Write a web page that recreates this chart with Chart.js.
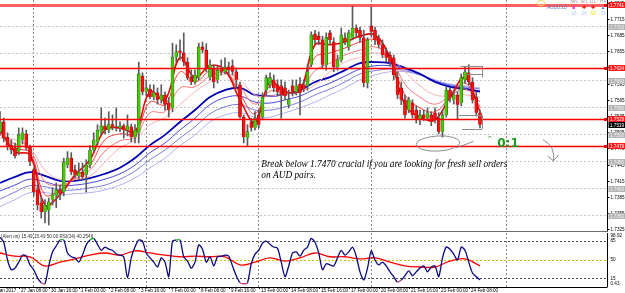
<!DOCTYPE html>
<html>
<head>
<meta charset="utf-8">
<script src="https://cdn.jsdelivr.net/npm/chart.js@4.4.1/dist/chart.umd.min.js"></script>
<style>
  html, body { margin: 0; padding: 0; background: #fff; }
  #wrap { position: relative; width: 625px; height: 293px; overflow: hidden; background: #fff; }
  #price { position: absolute; left: 0; top: 0; }
  #rsi { position: absolute; left: 0; top: 233px; }
</style>
</head>
<body>
<div id="wrap">
  <canvas id="price" width="625" height="232"></canvas>
  <canvas id="rsi" width="625" height="60"></canvas>
</div>
<script>
'use strict';

// H4 bars, bar 0 = 27 Jan 08:00, first visible bar is -5
var firstBar = -5;

var opens = [1.7506, 1.7524, 1.7496, 1.7481, 1.7476, 1.7469, 1.7491, 1.7502, 1.7478, 1.7435,
  1.7398, 1.7374, 1.7357, 1.7361, 1.7380, 1.7387, 1.7398, 1.7394, 1.7444, 1.7457,
  1.7435, 1.7424, 1.7431, 1.7426, 1.7444, 1.7472, 1.7487, 1.7506, 1.7517, 1.7509,
  1.7519, 1.7515, 1.7513, 1.7517, 1.7509, 1.7515, 1.7496, 1.7504, 1.7609, 1.7580,
  1.7585, 1.7570, 1.7578, 1.7565, 1.7574, 1.7559, 1.7550, 1.7644, 1.7656, 1.7652,
  1.7635, 1.7607, 1.7598, 1.7607, 1.7663, 1.7657, 1.7607, 1.7624, 1.7602, 1.7624,
  1.7617, 1.7626, 1.7628, 1.7617, 1.7593, 1.7533, 1.7494, 1.7524, 1.7513, 1.7537,
  1.7533, 1.7583, 1.7593, 1.7602, 1.7593, 1.7591, 1.7587, 1.7556, 1.7591, 1.7580,
  1.7594, 1.7593, 1.7591, 1.7630, 1.7687, 1.7683, 1.7676, 1.7630, 1.7689, 1.7672,
  1.7626, 1.7639, 1.7680, 1.7663, 1.7680, 1.7698, 1.7694, 1.7680, 1.7596, 1.7702,
  1.7694, 1.7680, 1.7667, 1.7654, 1.7648, 1.7643, 1.7607, 1.7587, 1.7565, 1.7546,
  1.7559, 1.7546, 1.7528, 1.7537, 1.7531, 1.7537, 1.7541, 1.7531, 1.7506, 1.7537,
  1.7583, 1.7565, 1.7574, 1.7559, 1.7602, 1.7615, 1.7598, 1.7569, 1.7541];
var highs = [1.7543, 1.7531, 1.7504, 1.7491, 1.7485, 1.7513, 1.7513, 1.7509, 1.7481, 1.7439,
  1.7407, 1.7387, 1.7380, 1.7383, 1.7402, 1.7411, 1.7407, 1.7457, 1.7469, 1.7467,
  1.7444, 1.7448, 1.7448, 1.7454, 1.7480, 1.7504, 1.7519, 1.7550, 1.7531, 1.7543,
  1.7537, 1.7550, 1.7524, 1.7520, 1.7537, 1.7520, 1.7519, 1.7635, 1.7615, 1.7602,
  1.7593, 1.7593, 1.7587, 1.7593, 1.7580, 1.7569, 1.7670, 1.7667, 1.7676, 1.7689,
  1.7643, 1.7620, 1.7620, 1.7670, 1.7672, 1.7669, 1.7639, 1.7630, 1.7628, 1.7639,
  1.7643, 1.7635, 1.7639, 1.7624, 1.7598, 1.7537, 1.7519, 1.7531, 1.7543, 1.7546,
  1.7578, 1.7611, 1.7615, 1.7611, 1.7602, 1.7602, 1.7598, 1.7583, 1.7602, 1.7602,
  1.7606, 1.7602, 1.7630, 1.7691, 1.7694, 1.7691, 1.7683, 1.7689, 1.7694, 1.7680,
  1.7648, 1.7698, 1.7689, 1.7694, 1.7739, 1.7704, 1.7700, 1.7694, 1.7680, 1.7737,
  1.7700, 1.7685, 1.7676, 1.7661, 1.7654, 1.7648, 1.7617, 1.7598, 1.7574, 1.7570,
  1.7565, 1.7554, 1.7546, 1.7546, 1.7550, 1.7543, 1.7550, 1.7541, 1.7546, 1.7589,
  1.7587, 1.7583, 1.7580, 1.7613, 1.7626, 1.7630, 1.7606, 1.7580, 1.7546];
var lows = [1.7500, 1.7487, 1.7472, 1.7465, 1.7457, 1.7463, 1.7483, 1.7472, 1.7443, 1.7387,
  1.7361, 1.7346, 1.7337, 1.7333, 1.7370, 1.7365, 1.7380, 1.7387, 1.7439, 1.7426,
  1.7420, 1.7417, 1.7417, 1.7394, 1.7439, 1.7469, 1.7481, 1.7500, 1.7502, 1.7504,
  1.7509, 1.7507, 1.7506, 1.7494, 1.7498, 1.7487, 1.7485, 1.7485, 1.7574, 1.7572,
  1.7567, 1.7565, 1.7557, 1.7559, 1.7546, 1.7533, 1.7543, 1.7635, 1.7639, 1.7628,
  1.7602, 1.7593, 1.7594, 1.7602, 1.7652, 1.7617, 1.7602, 1.7587, 1.7596, 1.7611,
  1.7613, 1.7613, 1.7611, 1.7587, 1.7531, 1.7485, 1.7480, 1.7507, 1.7509, 1.7513,
  1.7528, 1.7574, 1.7587, 1.7580, 1.7572, 1.7531, 1.7565, 1.7550, 1.7572, 1.7574,
  1.7537, 1.7580, 1.7583, 1.7626, 1.7669, 1.7667, 1.7624, 1.7620, 1.7667, 1.7617,
  1.7620, 1.7635, 1.7667, 1.7657, 1.7676, 1.7680, 1.7672, 1.7589, 1.7587, 1.7683,
  1.7667, 1.7661, 1.7643, 1.7635, 1.7628, 1.7602, 1.7567, 1.7556, 1.7531, 1.7541,
  1.7531, 1.7522, 1.7519, 1.7526, 1.7528, 1.7517, 1.7522, 1.7502, 1.7496, 1.7533,
  1.7561, 1.7557, 1.7528, 1.7554, 1.7596, 1.7593, 1.7559, 1.7535, 1.7513];
var closes = [1.7524, 1.7494, 1.7480, 1.7472, 1.7461, 1.7500, 1.7504, 1.7476, 1.7450, 1.7394,
  1.7370, 1.7357, 1.7370, 1.7376, 1.7389, 1.7398, 1.7391, 1.7450, 1.7457, 1.7431,
  1.7426, 1.7431, 1.7422, 1.7444, 1.7472, 1.7491, 1.7509, 1.7517, 1.7509, 1.7519,
  1.7515, 1.7513, 1.7517, 1.7509, 1.7517, 1.7496, 1.7509, 1.7613, 1.7580, 1.7587,
  1.7570, 1.7578, 1.7565, 1.7574, 1.7556, 1.7546, 1.7644, 1.7654, 1.7652, 1.7635,
  1.7606, 1.7598, 1.7611, 1.7663, 1.7657, 1.7624, 1.7630, 1.7598, 1.7620, 1.7617,
  1.7626, 1.7620, 1.7617, 1.7602, 1.7533, 1.7496, 1.7506, 1.7513, 1.7531, 1.7519,
  1.7570, 1.7606, 1.7606, 1.7587, 1.7580, 1.7574, 1.7572, 1.7565, 1.7580, 1.7591,
  1.7578, 1.7585, 1.7617, 1.7685, 1.7676, 1.7676, 1.7630, 1.7681, 1.7676, 1.7626,
  1.7639, 1.7685, 1.7672, 1.7689, 1.7698, 1.7689, 1.7680, 1.7596, 1.7676, 1.7691,
  1.7676, 1.7667, 1.7648, 1.7643, 1.7635, 1.7611, 1.7574, 1.7565, 1.7537, 1.7565,
  1.7537, 1.7528, 1.7537, 1.7531, 1.7541, 1.7524, 1.7528, 1.7506, 1.7537, 1.7583,
  1.7569, 1.7574, 1.7556, 1.7606, 1.7617, 1.7598, 1.7565, 1.7541, 1.7519];

// moving-average ribbons, read every 4th bar
var ribbonBars = [-5, -1, 3, 7, 11, 15, 19, 23, 27, 31, 35, 39, 43, 47, 51, 55, 59,
  63, 67, 71, 75, 79, 83, 87, 91, 95, 99, 103, 107, 111, 115, 119, 123];
var redFast = [1.7509, 1.7469, 1.7463, 1.7370, 1.7389, 1.7426, 1.7454, 1.7509, 1.7513, 1.7506, 1.7580,
  1.7565, 1.7643, 1.7606, 1.7628, 1.7620, 1.7565, 1.7524, 1.7598, 1.7580, 1.7583, 1.7667,
  1.7667, 1.7672, 1.7683, 1.7685, 1.7643, 1.7556, 1.7533, 1.7528, 1.7570, 1.7606, 1.7543];
var redMid = [1.7506, 1.7476, 1.7467, 1.7389, 1.7398, 1.7422, 1.7444, 1.7491, 1.7502, 1.7502, 1.7561,
  1.7556, 1.7617, 1.7598, 1.7619, 1.7619, 1.7576, 1.7539, 1.7591, 1.7580, 1.7583, 1.7644,
  1.7652, 1.7661, 1.7672, 1.7676, 1.7644, 1.7574, 1.7550, 1.7543, 1.7570, 1.7596, 1.7552];
var redSlow = [1.7500, 1.7483, 1.7472, 1.7413, 1.7407, 1.7418, 1.7435, 1.7470, 1.7489, 1.7496, 1.7541,
  1.7543, 1.7587, 1.7589, 1.7609, 1.7615, 1.7589, 1.7557, 1.7581, 1.7578, 1.7581, 1.7619,
  1.7633, 1.7648, 1.7657, 1.7663, 1.7646, 1.7594, 1.7570, 1.7557, 1.7572, 1.7585, 1.7561];
var redSlowest = [1.7494, 1.7491, 1.7476, 1.7435, 1.7417, 1.7417, 1.7424, 1.7450, 1.7476, 1.7491, 1.7519,
  1.7532, 1.7556, 1.7580, 1.7598, 1.7613, 1.7602, 1.7574, 1.7572, 1.7576, 1.7580, 1.7593,
  1.7617, 1.7635, 1.7644, 1.7652, 1.7643, 1.7617, 1.7591, 1.7574, 1.7572, 1.7574, 1.7570];
var blueFast = [1.7411, 1.7422, 1.7431, 1.7424, 1.7415, 1.7415, 1.7420, 1.7428, 1.7439, 1.7457, 1.7481,
  1.7500, 1.7524, 1.7546, 1.7570, 1.7583, 1.7587, 1.7574, 1.7572, 1.7576, 1.7583, 1.7598,
  1.7607, 1.7620, 1.7633, 1.7635, 1.7633, 1.7624, 1.7613, 1.7598, 1.7589, 1.7585, 1.7580];
var blueMid = [1.7396, 1.7407, 1.7418, 1.7413, 1.7406, 1.7407, 1.7411, 1.7418, 1.7428, 1.7444, 1.7467,
  1.7485, 1.7509, 1.7531, 1.7556, 1.7569, 1.7572, 1.7561, 1.7559, 1.7565, 1.7572, 1.7585,
  1.7596, 1.7609, 1.7622, 1.7628, 1.7628, 1.7622, 1.7613, 1.7600, 1.7591, 1.7587, 1.7581];
var blueSlow = [1.7381, 1.7394, 1.7406, 1.7404, 1.7398, 1.7398, 1.7402, 1.7407, 1.7418, 1.7433, 1.7454,
  1.7472, 1.7494, 1.7515, 1.7539, 1.7552, 1.7556, 1.7546, 1.7546, 1.7552, 1.7561, 1.7574,
  1.7585, 1.7598, 1.7613, 1.7619, 1.7622, 1.7619, 1.7611, 1.7600, 1.7593, 1.7589, 1.7585];
var blueSlowest = [1.7367, 1.7380, 1.7393, 1.7393, 1.7389, 1.7391, 1.7393, 1.7398, 1.7407, 1.7420, 1.7439,
  1.7457, 1.7480, 1.7500, 1.7524, 1.7537, 1.7541, 1.7533, 1.7533, 1.7541, 1.7550, 1.7561,
  1.7574, 1.7587, 1.7602, 1.7611, 1.7617, 1.7617, 1.7611, 1.7602, 1.7594, 1.7591, 1.7587];

// RSI(14), one value per bar from firstBar
var rsiValues = [92, 83, 50, 32, 35, 46, 59, 57, 41, 32, 17, 8, 6, 39, 65, 76, 87, 87, 63, 56,
  54, 46, 59, 78, 87, 90, 79, 68, 74, 70, 68, 61, 59, 56, 17, 54, 74, 87, 85, 63,
  54, 46, 37, 54, 46, 19, 85, 87, 87, 56, 48, 35, 46, 78, 70, 46, 56, 39, 56, 57,
  59, 57, 39, 21, 8, 6, 8, 43, 61, 68, 81, 85, 79, 74, 72, 46, 19, 39, 63, 65,
  57, 68, 74, 90, 83, 63, 32, 43, 41, 39, 54, 68, 59, 65, 74, 57, 28, 13, 35, 67,
  50, 41, 46, 39, 28, 19, 9, 13, 21, 30, 21, 28, 35, 39, 28, 37, 39, 19, 54, 74,
  70, 61, 50, 74, 68, 46, 26, 19, 13];
// RSI signal line, read at ribbonBars
var rsiSignal = [63, 57, 56, 39, 46, 52, 59, 63, 59, 67, 63, 59, 56, 57, 56, 56, 41,
  46, 54, 48, 54, 63, 56, 56, 52, 54, 46, 39, 37, 37, 48, 52, 39];

var priceTicks = [1.7745, 1.7715, 1.7685, 1.7655, 1.7625, 1.7595, 1.7565, 1.7535, 1.7505,
  1.7475, 1.7445, 1.7415, 1.7385, 1.7355, 1.7325];
var gridPrices = [1.7700, 1.7650, 1.7600, 1.7550, 1.7500, 1.7450, 1.7400, 1.7350];
var greyTags = [1.7700, 1.7600, 1.7550, 1.7500, 1.7450, 1.7400, 1.7350];
var levelPrices = [1.7741, 1.7624, 1.7529, 1.7479];
var rsiLevels = [15, 50, 85];
var rsiLabels = ['98.92', '85', '50', '15', '0.43'];
var rsiLabelValues = [98.92, 85, 50, 15, 0.43];

var timeLabelBars = [-8, 0, 8, 16, 24, 32, 40, 48, 56, 64, 72, 80, 88, 96, 104, 112, 120];
var timeLabels = ['26 Jan 2017', '27 Jan 08:00', '30 Jan 16:00', '1 Feb 00:00', '2 Feb 08:00',
  '3 Feb 16:00', '7 Feb 00:00', '8 Feb 08:00', '9 Feb 16:00', '13 Feb 00:00', '14 Feb 08:00',
  '15 Feb 16:00', '17 Feb 00:00', '20 Feb 08:00', '21 Feb 16:00', '23 Feb 00:00', '24 Feb 08:00'];
var weekBars = [4, 34, 64, 94, 130];

var xMin = -5, xMax = 156.87;
var axisFont = '4.6px "Liberation Sans", Arial, sans-serif';

Chart.defaults.animation = false;
Chart.defaults.events = [];

function barX(i) { return firstBar + i; }

function ribbon(values, color, width, order) {
  return {
    type: 'line',
    data: values.map(function(v, i) { return {x: ribbonBars[i], y: v}; }),
    borderColor: color,
    borderWidth: width,
    pointRadius: 0,
    tension: 0.4,
    fill: false,
    order: order
  };
}

var bodies = opens.map(function(o, i) { return {x: barX(i), y: [o, closes[i]]}; });
var wicks = lows.map(function(l, i) { return {x: barX(i), y: [l, highs[i]]}; });
var bodyColors = opens.map(function(o, i) { return closes[i] >= o ? '#44cc00' : '#ff1010'; });
var bodyEdges = opens.map(function(o, i) { return closes[i] >= o ? '#2e5e10' : '#8a0000'; });

function drawTag(ctx, x, y, text, bg, fg) {
  ctx.fillStyle = bg;
  ctx.fillRect(x, Math.round(y) - 3, 17, 6);
  ctx.fillStyle = fg;
  ctx.textAlign = 'left';
  ctx.textBaseline = 'middle';
  ctx.fillText(text, x + 1.5, Math.round(y) + 0.3);
}

var priceDecor = {
  id: 'priceDecor',
  afterDatasetsDraw: function(chart) {
    var ctx = chart.ctx, a = chart.chartArea, ys = chart.scales.y, xs = chart.scales.x;
    ctx.save();

    // horizontal levels
    levelPrices.forEach(function(p, i) {
      var y = Math.round(ys.getPixelForValue(p)) + 0.5;
      ctx.strokeStyle = i === 0 ? 'rgba(255,30,30,0.7)' : '#ff0000';
      ctx.lineWidth = i === 0 ? 3 : 1.4;
      ctx.beginPath();
      ctx.moveTo(a.left, y);
      ctx.lineTo(a.right, y);
      ctx.stroke();
      ctx.fillStyle = '#ff0000';
      ctx.fillRect(a.right - 3, y - 1.5, 3, 3);
    });

    // boxes drawn around the last swing
    ctx.strokeStyle = '#8c8c8c';
    ctx.lineWidth = 1;
    [[117.8, 123.6, 1.7628], [119.6, 123.6, 1.7613], [117.4, 123.6, 1.7537], [118.2, 123.6, 1.7511]].forEach(function(s) {
      var y = Math.round(ys.getPixelForValue(s[2])) + 0.5;
      ctx.beginPath();
      ctx.moveTo(xs.getPixelForValue(s[0]), y);
      ctx.lineTo(xs.getPixelForValue(s[1]), y);
      ctx.stroke();
    });
    [[1.7628, 1.7606], [1.7537, 1.7511]].forEach(function(s) {
      var x = Math.round(xs.getPixelForValue(123.6)) + 0.5;
      ctx.beginPath();
      ctx.moveTo(x, ys.getPixelForValue(s[0]));
      ctx.lineTo(x, ys.getPixelForValue(s[1]));
      ctx.stroke();
    });

    // hand drawn ellipse under the low
    var cx = xs.getPixelForValue(111.8), cy = ys.getPixelForValue(1.7484);
    var rx = xs.getPixelForValue(117.6) - cx, ry = ys.getPixelForValue(1.7470) - cy;
    ctx.strokeStyle = '#707070';
    ctx.lineWidth = 0.8;
    ctx.beginPath();
    ctx.ellipse(cx, cy, rx, ry, -0.05, 0.25 * Math.PI, 2.15 * Math.PI);
    ctx.stroke();
    ctx.beginPath();
    ctx.moveTo(cx + rx * 0.8, cy + ry * 0.55);
    ctx.quadraticCurveTo(xs.getPixelForValue(118.5), ys.getPixelForValue(1.7480),
      xs.getPixelForValue(121.3), ys.getPixelForValue(1.7488));
    ctx.stroke();

    // hand drawn arrow
    ctx.beginPath();
    ctx.moveTo(xs.getPixelForValue(139.8), ys.getPixelForValue(1.7491));
    ctx.quadraticCurveTo(xs.getPixelForValue(143.2), ys.getPixelForValue(1.7478),
      xs.getPixelForValue(142.6), ys.getPixelForValue(1.7452));
    ctx.stroke();
    ctx.beginPath();
    ctx.moveTo(xs.getPixelForValue(141.0), ys.getPixelForValue(1.7461));
    ctx.lineTo(xs.getPixelForValue(142.6), ys.getPixelForValue(1.7452));
    ctx.lineTo(xs.getPixelForValue(144.0), ys.getPixelForValue(1.7463));
    ctx.stroke();

    // comment text
    ctx.fillStyle = '#000';
    ctx.font = 'italic 9.3px "Liberation Serif", "Times New Roman", serif';
    ctx.textAlign = 'left';
    ctx.textBaseline = 'alphabetic';
    var tx = xs.getPixelForValue(64.7);
    ctx.fillText('Break below 1.7470 crucial if you are looking for fresh sell orders', tx, ys.getPixelForValue(1.7440));
    ctx.fillText('on AUD pairs.', tx, ys.getPixelForValue(1.7420));

    // risk / reward mark
    ctx.fillStyle = '#1f9a1f';
    ctx.font = 'bold 12px "DejaVu Sans", sans-serif';
    ctx.fillText('0:1', xs.getPixelForValue(127.6), ys.getPixelForValue(1.7478));
    ctx.font = '7px "DejaVu Sans", sans-serif';
    ctx.fillText('^', xs.getPixelForValue(124.8), ys.getPixelForValue(1.7488));

    // trend panel, top right
    ctx.font = '4.6px "Liberation Sans", Arial, sans-serif';
    ctx.textAlign = 'center';
    ctx.textBaseline = 'middle';
    ctx.strokeStyle = '#f0e070';
    ctx.lineWidth = 1;
    ctx.beginPath();
    ctx.ellipse(541, 3, 4, 2.5, 0, 0, 2 * Math.PI);
    ctx.stroke();
    ctx.fillStyle = '#5a78c0';
    ctx.fillText('AUDUSD', 557, 7.5);
    var frames = ['MN', 'W1', 'D1', 'H4'];
    var arrows = [['\u25A0', '#ff20ff'], ['\u271A', '#ff0000'], ['\u271A', '#ff0000'], ['\u25B2', '#2f80ff']];
    var scores = [['16', '#a9c8ee'], ['24', '#a9c8ee'], ['63', '#e6e000'], ['79', '#a9c8ee']];
    [574, 584, 593, 603].forEach(function(x, i) {
      ctx.fillStyle = '#9a9a9a';
      ctx.fillText(frames[i], x, 1.5);
      ctx.fillStyle = arrows[i][1];
      ctx.fillText(arrows[i][0], x, 7.5);
      ctx.fillStyle = scores[i][1];
      ctx.fillText(scores[i][0], x, 14);
    });

    // right price axis
    var rx0 = Math.round(a.right) + 0.5;
    ctx.strokeStyle = '#000';
    ctx.lineWidth = 1;
    ctx.beginPath();
    ctx.moveTo(rx0, 0);
    ctx.lineTo(rx0, a.bottom);
    ctx.stroke();
    ctx.font = axisFont;
    ctx.textAlign = 'left';
    ctx.textBaseline = 'middle';
    priceTicks.forEach(function(p) {
      var y = Math.round(ys.getPixelForValue(p)) + 0.5;
      ctx.beginPath();
      ctx.moveTo(rx0, y);
      ctx.lineTo(rx0 + 2, y);
      ctx.stroke();
      ctx.fillStyle = '#000';
      ctx.fillText(p.toFixed(4), rx0 + 3, y);
    });
    greyTags.forEach(function(p) {
      drawTag(ctx, rx0 + 1, ys.getPixelForValue(p), p.toFixed(4), '#b4b4b4', '#f4f4f4');
    });
    levelPrices.forEach(function(p) {
      drawTag(ctx, rx0 + 1, ys.getPixelForValue(p), p.toFixed(4), '#ff1a1a', '#fff');
    });
    var last = closes[closes.length - 1];
    drawTag(ctx, rx0 + 1, ys.getPixelForValue(last), last.toFixed(4), '#000', '#fff');

    // separator between the panels
    ctx.fillStyle = '#6e6e6e';
    ctx.fillRect(0, a.bottom - 1, rx0 + 0.5, 2);
    ctx.restore();
  }
};

new Chart(document.getElementById('price'), {
  type: 'bar',
  data: {
    datasets: [
      {data: bodies, backgroundColor: bodyColors, borderColor: bodyEdges, borderWidth: 0.6,
        barThickness: 3, grouped: false, order: 0},
      {data: wicks, backgroundColor: '#5a5a5a', borderWidth: 0, barThickness: 1, grouped: false, order: 1},
      ribbon(redFast, '#ee0000', 1.6, 2),
      ribbon(redMid, '#f23c3c', 1, 3),
      ribbon(redSlow, '#f77777', 1, 4),
      ribbon(redSlowest, '#fbb2b2', 1, 5),
      ribbon(blueFast, '#0000b4', 1.8, 6),
      ribbon(blueMid, '#4848d8', 1, 7),
      ribbon(blueSlow, '#7c7ce6', 1, 8),
      ribbon(blueSlowest, '#b0b0f2', 1, 9)
    ]
  },
  options: {
    responsive: false,
    layout: {padding: {left: 0, right: 18, top: 0, bottom: 0}},
    plugins: {legend: {display: false}, tooltip: {enabled: false}},
    scales: {
      x: {
        type: 'linear', min: xMin, max: xMax, offset: false,
        ticks: {display: false},
        grid: {offset: false, color: '#8a8a8a', drawTicks: false},
        border: {display: false, dash: [2, 2]},
        afterBuildTicks: function(s) { s.ticks = weekBars.map(function(v) { return {value: v}; }); },
        afterFit: function(s) { s.height = 0; }
      },
      y: {
        position: 'right', min: 1.7320, max: 1.7750,
        ticks: {display: false},
        grid: {color: '#c4c4c4', drawTicks: false},
        border: {display: false, dash: [2, 2]},
        afterBuildTicks: function(s) { s.ticks = gridPrices.map(function(v) { return {value: v}; }); },
        afterFit: function(s) { s.width = 0; }
      }
    }
  },
  plugins: [priceDecor]
});

var rsiDecor = {
  id: 'rsiDecor',
  afterDatasetsDraw: function(chart) {
    var ctx = chart.ctx, a = chart.chartArea, ys = chart.scales.y, xs = chart.scales.x;
    var rx0 = Math.round(a.right) + 0.5;
    ctx.save();
    ctx.strokeStyle = '#000';
    ctx.lineWidth = 1;
    ctx.beginPath();
    ctx.moveTo(rx0, 0);
    ctx.lineTo(rx0, a.bottom);
    ctx.moveTo(0, Math.round(a.bottom) + 0.5);
    ctx.lineTo(rx0, Math.round(a.bottom) + 0.5);
    ctx.stroke();

    ctx.font = axisFont;
    ctx.fillStyle = '#000';
    ctx.textAlign = 'left';
    ctx.textBaseline = 'middle';
    rsiLabelValues.forEach(function(v, i) {
      var y = ys.getPixelForValue(v);
      y = Math.max(a.top + 3, Math.min(a.bottom - 3, y));
      ctx.fillText(rsiLabels[i], rx0 + 3, y);
    });

    ctx.fillStyle = '#303030';
    ctx.fillText('(Alert on) 15.49 15.49 50.00 RSI(14) 40.2546', 1, a.top + 3.5);

    ctx.textBaseline = 'top';
    timeLabelBars.forEach(function(b, i) {
      var x = Math.round(xs.getPixelForValue(b)) + 0.5;
      ctx.beginPath();
      ctx.moveTo(x, a.bottom);
      ctx.lineTo(x, a.bottom + 2);
      ctx.stroke();
      ctx.fillStyle = '#000';
      ctx.fillText(timeLabels[i], x + 1.5, a.bottom + 1.6);
    });
    ctx.restore();
  }
};

new Chart(document.getElementById('rsi'), {
  type: 'line',
  data: {
    datasets: [
      {
        data: rsiValues.map(function(v, i) { return {x: barX(i), y: v}; }),
        borderColor: '#0a0a80', borderWidth: 1.3, pointRadius: 0, tension: 0.25, order: 1,
        segment: {
          borderColor: function(c) {
            var p = c.p0.parsed.y, q = c.p1.parsed.y;
            if (p < 15 && q < 15) { return '#c43c78'; }
            if (p > 85 && q > 85) { return '#22b022'; }
            return undefined;
          }
        }
      },
      {
        data: rsiSignal.map(function(v, i) { return {x: ribbonBars[i], y: v}; }),
        borderColor: '#ff0000', borderWidth: 1.3, pointRadius: 0, tension: 0.4, order: 2
      }
    ]
  },
  options: {
    responsive: false,
    layout: {padding: {left: 0, right: 18, top: 0, bottom: 6}},
    plugins: {legend: {display: false}, tooltip: {enabled: false}},
    scales: {
      x: {
        type: 'linear', min: xMin, max: xMax,
        ticks: {display: false},
        grid: {color: '#8a8a8a', drawTicks: false},
        border: {display: false, dash: [2, 2]},
        afterBuildTicks: function(s) { s.ticks = weekBars.map(function(v) { return {value: v}; }); },
        afterFit: function(s) { s.height = 0; }
      },
      y: {
        position: 'right', min: 0, max: 100,
        ticks: {display: false},
        grid: {
          drawTicks: false,
          color: function(c) { return c.tick && c.tick.value === 50 ? '#cfc000' : '#505050'; }
        },
        border: {display: false, dash: [2, 2]},
        afterBuildTicks: function(s) { s.ticks = rsiLevels.map(function(v) { return {value: v}; }); },
        afterFit: function(s) { s.width = 0; }
      }
    }
  },
  plugins: [rsiDecor]
});
</script>
</body>
</html>
